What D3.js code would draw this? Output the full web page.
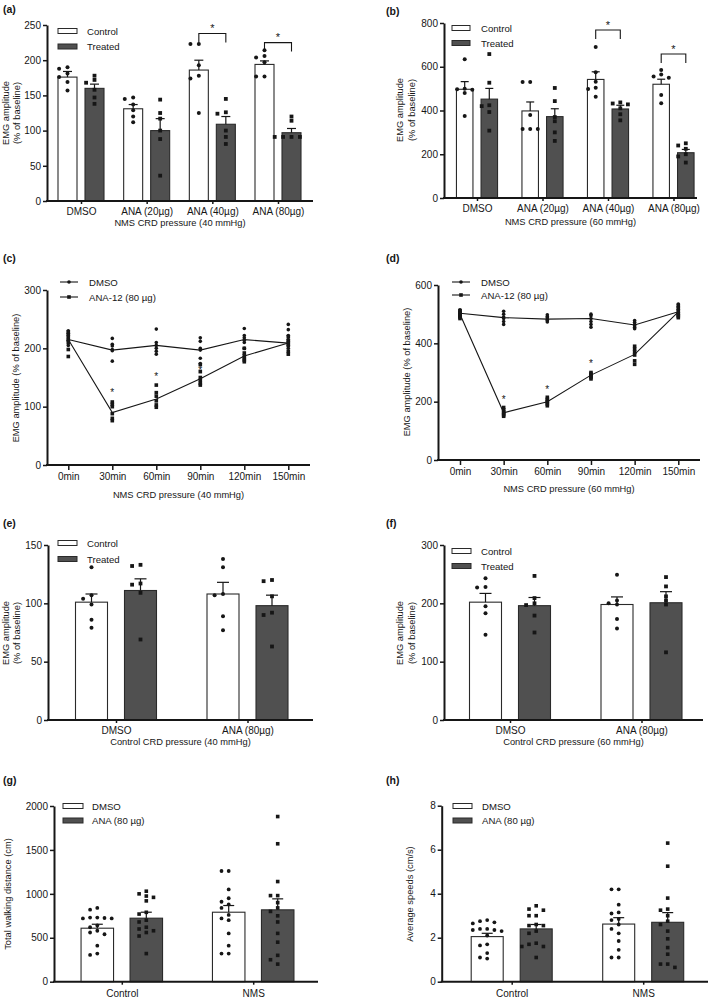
<!DOCTYPE html>
<html><head><meta charset="utf-8">
<script src="https://cdn.jsdelivr.net/npm/d3@7"></script>
<style>
body{margin:0;background:#fff}
svg{display:block}
text{font-family:"Liberation Sans",Arial,Helvetica,sans-serif;fill:#161616}
</style>
</head><body>
<svg id="fig" width="709" height="998"></svg>
<script>
// ---------------- DATA ----------------
// Panel (a)  NMS CRD 40 mmHg
const aGroups = ["DMSO", "ANA (20µg)", "ANA (40µg)", "ANA (80µg)"];
const aSeries = ["Control", "Treated"];
const aCtrlMean = [176, 131, 186, 194];
const aCtrlSem = [8, 6, 14, 5];
const aTrtMean = [160, 100, 109, 97];
const aTrtSem = [6, 17, 11, 6];
const aCtrlPts = [[190,188,181,176,169,157],[147,145,137,129,120,112],[223,223,193,178,174,125],[214,206,204,197,177,177]];
const aTrtPts = [[178,172,168,158,147,138],[144,125,117,100,88,36],[145,126,124,100,91,81],[120,114,91,91,91,91]];
const aSigGroups = ["ANA (40µg)", "ANA (80µg)"];
const aSigLevel = [238, 225];

// Panel (b)  NMS CRD 60 mmHg
const bGroups = ["DMSO", "ANA (20µg)", "ANA (40µg)", "ANA (80µg)"];
const bCtrlMean = [497, 398, 542, 520];
const bCtrlSem = [35, 41, 35, 23];
const bTrtMean = [452, 372, 407, 207];
const bTrtSem = [49, 36, 17, 15];
const bCtrlPts = [[634,500,497,495,480,375],[530,530,380,315,315,315],[690,575,532,504,498,463],[585,565,555,550,471,433]];
const bTrtPts = [[658,527,424,420,393,308],[503,443,370,351,300,261],[437,432,428,410,383,355],[250,240,225,200,190,162]];
const bSigGroups = ["ANA (40µg)", "ANA (80µg)"];
const bSigLevel = [768, 658];

// Panel (c)  time course 40 mmHg
const times = ["0min", "30min", "60min", "90min", "120min", "150min"];
const lineSeries = ["DMSO", "ANA-12 (80 µg)"];
const cDmsoMean = [215, 197, 205, 197, 215, 209];
const cAnaMean = [215, 90, 113, 148, 187, 209];
const cDmsoPts = [[230,226,222,218,214,205],[217,207,204,198,196,178],[233,210,205,200,195,190],[218,212,200,197,183,174],[234,222,218,214,210,200],[241,232,222,215,205,200]];
const cAnaPts = [[228,222,215,210,198,186],[108,104,100,88,80,76],[137,124,118,110,103,99],[172,160,150,145,140,137],[200,192,187,183,180,177],[220,213,210,205,195,190]];
const cStarTimes = ["30min", "60min", "90min"];
const cStarVal = [126, 152, 163];

// Panel (d)  time course 60 mmHg
const dDmsoMean = [503, 488, 483, 485, 463, 508];
const dAnaMean = [500, 162, 200, 291, 362, 508];
const dDmsoPts = [[515,510,505,500,495,490],[510,500,490,485,475,465],[498,492,488,482,478,473],[500,495,485,475,465,455],[478,472,465,460,455,450],[535,525,515,505,498,490]];
const dAnaPts = [[512,505,500,495,490,485],[180,172,165,160,155,150],[215,208,202,198,192,186],[300,295,290,287,283,278],[390,380,370,360,340,328],[530,520,510,500,495,488]];
const dStarTimes = ["30min", "60min", "90min"];
const dStarVal = [208, 243, 331];

// Panel (e)  control CRD 40 mmHg
const efGroups = ["DMSO", "ANA (80µg)"];
const eCtrlMean = [101, 108];
const eCtrlSem = [7, 10];
const eTrtMean = [111, 98];
const eTrtSem = [10, 9];
const eCtrlPts = [[131,107,104,99,86,79],[138,131,107,108,89,77]];
const eTrtPts = [[132,133,117,116,109,69],[119,120,106,92,90,63]];

// Panel (f)  control CRD 60 mmHg
const fCtrlMean = [202, 198];
const fCtrlSem = [15, 13];
const fTrtMean = [196, 201];
const fTrtSem = [14, 19];
const fCtrlPts = [[243,228,227,195,183,146],[249,205,200,198,173,157]];
const fTrtPts = [[247,209,200,197,179,150],[245,229,212,205,198,116]];

// Panel (g)  total walking distance
const ghGroups = ["Control", "NMS"];
const ghSeries = ["DMSO", "ANA (80 µg)"];
const gDmsoMean = [609, 791];
const gDmsoSem = [45, 76];
const gAnaMean = [723, 818];
const gAnaSem = [68, 125];
const gDmsoPts = [[840,820,730,730,725,720,720,640,620,580,560,540,410,320,305],[1260,1260,1050,950,910,880,840,760,720,700,550,410,320,320]];
const gAnaPts = [[1030,1000,975,960,920,790,770,700,680,620,600,580,560,520,320],[1880,1570,1140,980,980,900,840,800,750,680,550,450,300,250,200]];

// Panel (h)  average speeds
const hDmsoMean = [2.05, 2.62];
const hDmsoSem = [0.15, 0.29];
const hAnaMean = [2.4, 2.7];
const hAnaSem = [0.2, 0.44];
const hDmsoPts = [[2.8,2.75,2.7,2.65,2.4,2.4,2.35,2.35,2.3,2.1,1.7,1.65,1.3,1.05,1.1],[4.2,4.2,3.5,3.15,3.1,2.85,2.8,2.6,2.4,2.2,1.85,1.45,1.1,1.1]];
const hAnaPts = [[3.45,3.3,3.25,3.0,3.0,2.6,2.55,2.55,2.3,2.2,1.75,1.7,1.6,1.6,1.1],[6.3,5.25,3.8,3.3,3.25,3.0,2.75,2.6,2.3,1.95,1.55,1.25,0.8,0.8,0.65]];

// ---------------- DRAWING ----------------
const svg = d3.select("#fig");
const INK = "#161616";
const DARK = "#505050";
const TICKFS = 9, LABFS = 9.6, TITLEFS = 9.3, LEGFS = 9.6;

function panelLabel(txt, x, y) {
  svg.append("text").attr("x", x).attr("y", y).attr("font-size", 10.5)
    .attr("font-weight", "bold").text(txt);
}

function yTitle(lines, x, yc, gap) {
  lines.forEach((t, i) => {
    svg.append("text")
      .attr("transform", `translate(${x + i * gap},${yc}) rotate(-90)`)
      .attr("text-anchor", "middle").attr("dominant-baseline", "central")
      .attr("font-size", TITLEFS).text(t);
  });
}

function styleAxis(sel) {
  sel.selectAll("path.domain").attr("stroke", INK).attr("stroke-width", 2);
  sel.selectAll(".tick line").attr("stroke", INK).attr("stroke-width", 1.5);
  sel.selectAll(".tick text").attr("fill", INK).attr("font-family", '"Liberation Sans",Arial,sans-serif');
}

// deterministic horizontal dodge of points that sit at nearly the same height
function dodge(vals, yScale, cx, half, minDy) {
  const items = vals.map(v => ({ py: yScale(v) })).sort((a, b) => a.py - b.py);
  const placed = [];
  const offs = [0, -1, 1, -2, 2, -3, 3, -4, 4].map(k => k * half);
  items.forEach(p => {
    for (const o of offs) {
      if (!placed.some(q => Math.abs(q.py - p.py) < minDy && Math.abs(q.dx - o) < 2 * half * 0.95)) { p.dx = o; break; }
    }
    if (p.dx === undefined) p.dx = 0;
    placed.push(p);
  });
  return placed.map(p => ({ x: cx + p.dx, y: p.py }));
}

function drawMarker(g, shape, x, y, s) {
  if (shape === "circle") {
    g.append("circle").attr("cx", x).attr("cy", y).attr("r", s / 2).attr("fill", INK);
  } else {
    g.append("rect").attr("x", x - s / 2).attr("y", y - s / 2).attr("width", s).attr("height", s).attr("fill", INK);
  }
}

function barPanel(cfg) {
  const g = svg.append("g");
  const y = d3.scaleLinear().domain([0, cfg.max]).range([cfg.yB, cfg.yT]);
  const xg = d3.scalePoint().domain(cfg.groups).range([cfg.c0, cfg.cN]);
  const xs = d3.scaleBand().domain(cfg.series)
    .range([-(cfg.off + cfg.bw / 2), cfg.off + cfg.bw / 2])
    .paddingInner(1 - cfg.bw / (2 * cfg.off)).paddingOuter(0);

  cfg.series.forEach((s, si) => {
    cfg.groups.forEach((grp, gi) => {
      const m = cfg.means[si][gi], e = cfg.sems[si][gi];
      const bx = xg(grp) + xs(s), bw = xs.bandwidth(), cx = bx + bw / 2;
      g.append("rect").attr("x", bx).attr("y", y(m)).attr("width", bw).attr("height", y(0) - y(m))
        .attr("fill", si === 0 ? "#fff" : DARK).attr("stroke", "#2a2a2a").attr("stroke-width", 1.1);
      g.append("line").attr("x1", cx).attr("x2", cx).attr("y1", y(m)).attr("y2", y(m + e))
        .attr("stroke", INK).attr("stroke-width", 1.2);
      g.append("line").attr("x1", cx - cfg.cap / 2).attr("x2", cx + cfg.cap / 2).attr("y1", y(m + e)).attr("y2", y(m + e))
        .attr("stroke", INK).attr("stroke-width", 1.2);
    });
  });
  cfg.series.forEach((s, si) => {
    cfg.groups.forEach((grp, gi) => {
      const cx = xg(grp) + xs(s) + xs.bandwidth() / 2;
      dodge(cfg.pts[si][gi], y, cx, cfg.half, cfg.minDy).forEach(p =>
        drawMarker(g, si === 0 ? "circle" : "square", p.x, p.y, si === 0 ? cfg.ms : cfg.ms * 0.95));
    });
  });

  const ya = d3.axisLeft(y).tickValues(d3.range(0, cfg.max + cfg.step / 2, cfg.step))
    .tickSize(4).tickSizeOuter(0).tickPadding(2).tickFormat(cfg.fmt || d3.format("d"));
  g.append("g").attr("transform", `translate(${cfg.x0},0)`).attr("font-size", TICKFS).call(ya).call(styleAxis);
  const xa = d3.axisBottom(xg).tickSize(3).tickPadding(cfg.xpad || 4).tickSizeOuter(0);
  g.append("g").attr("transform", `translate(0,${cfg.yB})`).attr("font-size", LABFS).call(xa)
    .call(styleAxis).call(a => a.select(".domain").remove());
  g.append("line").attr("x1", cfg.x0 - 1).attr("x2", cfg.x1).attr("y1", cfg.yB).attr("y2", cfg.yB)
    .attr("stroke", INK).attr("stroke-width", 2);

  if (cfg.xtitle) {
    g.append("text").attr("x", (cfg.x0 + cfg.x1) / 2).attr("y", cfg.xtitleY).attr("text-anchor", "middle")
      .attr("dominant-baseline", "central").attr("font-size", TITLEFS).text(cfg.xtitle);
  }

  cfg.series.forEach((s, si) => {
    const ly = cfg.legY[si];
    g.append("rect").attr("x", cfg.legX).attr("y", ly - 2.5).attr("width", cfg.legW).attr("height", 5)
      .attr("fill", si === 0 ? "#fff" : DARK).attr("stroke", "#2a2a2a").attr("stroke-width", 1);
    g.append("text").attr("x", cfg.legTX).attr("y", ly).attr("dominant-baseline", "central")
      .attr("font-size", LEGFS).text(s);
  });

  (cfg.sig || []).forEach((grp, i) => {
    const xl = xg(grp) + xs(cfg.series[0]) + xs.bandwidth() / 2;
    const xr = xg(grp) + xs(cfg.series[1]) + xs.bandwidth() / 2;
    const yy = y(cfg.sigLevel[i]);
    g.append("path").attr("d", `M${xl},${yy + 9}V${yy}H${xr}V${yy + 9}`)
      .attr("fill", "none").attr("stroke", INK).attr("stroke-width", 1.1);
    g.append("text").attr("x", (xl + xr) / 2).attr("y", yy - 1.5).attr("text-anchor", "middle")
      .attr("font-size", 11).text("*");
  });
  return { x: xg, y };
}

function linePanel(cfg) {
  const g = svg.append("g");
  const y = d3.scaleLinear().domain([0, cfg.max]).range([cfg.yB, cfg.yT]);
  const x = d3.scalePoint().domain(times).range([cfg.c0, cfg.cN]);
  const line = d3.line().x((d, i) => x(times[i])).y(d => y(d));
  [cfg.dmsoMean, cfg.anaMean].forEach(arr => {
    g.append("path").attr("d", line(arr)).attr("fill", "none").attr("stroke", INK).attr("stroke-width", 1.1);
  });
  times.forEach((t, ti) => {
    cfg.dmsoPts[ti].forEach(v => drawMarker(g, "circle", x(t), y(v), 3.6));
    cfg.anaPts[ti].forEach(v => drawMarker(g, "square", x(t), y(v), 3.6));
  });
  cfg.starTimes.forEach((t, i) => {
    g.append("text").attr("x", x(t)).attr("y", y(cfg.starVal[i]) + 4).attr("text-anchor", "middle")
      .attr("font-size", 10).text("*");
  });
  const ya = d3.axisLeft(y).tickValues(d3.range(0, cfg.max + cfg.step / 2, cfg.step))
    .tickSize(4).tickSizeOuter(0).tickPadding(2);
  g.append("g").attr("transform", `translate(${cfg.x0},0)`).attr("font-size", TICKFS).call(ya).call(styleAxis);
  const xa = d3.axisBottom(x).tickSize(5).tickPadding(3).tickSizeOuter(0);
  g.append("g").attr("transform", `translate(0,${cfg.yB})`).attr("font-size", LABFS).call(xa)
    .call(styleAxis).call(a => a.select(".domain").remove());
  g.append("line").attr("x1", cfg.x0 - 1).attr("x2", cfg.x1).attr("y1", cfg.yB).attr("y2", cfg.yB)
    .attr("stroke", INK).attr("stroke-width", 2);
  g.append("text").attr("x", (cfg.x0 + cfg.x1) / 2).attr("y", cfg.xtitleY).attr("text-anchor", "middle")
    .attr("dominant-baseline", "central").attr("font-size", TITLEFS).text(cfg.xtitle);
  lineSeries.forEach((s, si) => {
    const ly = cfg.legY[si];
    g.append("line").attr("x1", cfg.legX).attr("x2", cfg.legX + 18).attr("y1", ly).attr("y2", ly)
      .attr("stroke", INK).attr("stroke-width", 1.1);
    drawMarker(g, si === 0 ? "circle" : "square", cfg.legX + 9, ly, 3.6);
    g.append("text").attr("x", cfg.legX + 29).attr("y", ly).attr("dominant-baseline", "central")
      .attr("font-size", LEGFS).text(s);
  });
}

// ---- (a)
panelLabel("(a)", 3, 13);
barPanel({ groups: aGroups, series: aSeries, means: [aCtrlMean, aTrtMean], sems: [aCtrlSem, aTrtSem],
  pts: [aCtrlPts, aTrtPts], max: 250, step: 50, x0: 47, x1: 313, yB: 201, yT: 25,
  c0: 81, cN: 278, off: 13.5, bw: 19, cap: 9, half: 4.2, minDy: 4, ms: 4,
  legX: 58, legW: 19, legTX: 87, legY: [31, 46.5], sig: aSigGroups, sigLevel: aSigLevel,
  xtitle: "NMS CRD pressure (40 mmHg)", xtitleY: 223 });
yTitle(["EMG amplitude", "(% of baseline)"], 6, 113, 11);

// ---- (b)
panelLabel("(b)", 386, 15);
barPanel({ groups: bGroups, series: aSeries, means: [bCtrlMean, bTrtMean], sems: [bCtrlSem, bTrtSem],
  pts: [bCtrlPts, bTrtPts], max: 800, step: 200, x0: 444, x1: 697, yB: 198, yT: 23,
  c0: 477, cN: 673.5, off: 12.3, bw: 16.5, cap: 8, half: 3.8, minDy: 4, ms: 4,
  legX: 452, legW: 18, legTX: 481, legY: [28, 43], sig: bSigGroups, sigLevel: bSigLevel,
  xtitle: "NMS CRD pressure (60 mmHg)", xtitleY: 222 });
yTitle(["EMG amplitude", "(% of baseline)"], 399.5, 110, 12);

// ---- (c)
panelLabel("(c)", 3, 262);
linePanel({ max: 300, step: 100, x0: 47, x1: 310, yB: 465, yT: 290, c0: 68.3, cN: 288.3,
  dmsoMean: cDmsoMean, anaMean: cAnaMean, dmsoPts: cDmsoPts, anaPts: cAnaPts,
  starTimes: cStarTimes, starVal: cStarVal, legX: 60, legY: [282, 297],
  xtitle: "NMS CRD pressure (40 mmHg)", xtitleY: 495 });
yTitle(["EMG amplitude (% of baseline)"], 16, 378, 0);

// ---- (d)
panelLabel("(d)", 386, 262);
linePanel({ max: 600, step: 200, x0: 438, x1: 700, yB: 460, yT: 285, c0: 460, cN: 678.3,
  dmsoMean: dDmsoMean, anaMean: dAnaMean, dmsoPts: dDmsoPts, anaPts: dAnaPts,
  starTimes: dStarTimes, starVal: dStarVal, legX: 452, legY: [282, 295],
  xtitle: "NMS  CRD pressure (60 mmHg)", xtitleY: 489 });
yTitle(["EMG amplitude (% of baseline)"], 407, 372, 0);

// ---- (e)
panelLabel("(e)", 3, 527);
barPanel({ groups: efGroups, series: aSeries, means: [eCtrlMean, eTrtMean], sems: [eCtrlSem, eTrtSem],
  pts: [eCtrlPts, eTrtPts], max: 150, step: 50, x0: 48, x1: 313, yB: 720, yT: 545,
  c0: 116, cN: 247.5, off: 24.5, bw: 32, cap: 12, half: 4.2, minDy: 4, ms: 4,
  legX: 58, legW: 19, legTX: 87, legY: [543, 559],
  xtitle: "Control CRD pressure (40 mmHg)", xtitleY: 742 });
yTitle(["EMG amplitude", "(% of baseline)"], 6, 633, 11);

// ---- (f)
panelLabel("(f)", 386, 527);
barPanel({ groups: efGroups, series: aSeries, means: [fCtrlMean, fTrtMean], sems: [fCtrlSem, fTrtSem],
  pts: [fCtrlPts, fTrtPts], max: 300, step: 100, x0: 444, x1: 703, yB: 720, yT: 545,
  c0: 510, cN: 641.5, off: 24.5, bw: 32, cap: 12, half: 4.2, minDy: 4, ms: 4,
  legX: 452, legW: 19, legTX: 481, legY: [551, 566],
  xtitle: "Control CRD pressure (60 mmHg)", xtitleY: 742 });
yTitle(["EMG amplitude", "(% of baseline)"], 399.5, 633, 12);

// ---- (g)
panelLabel("(g)", 3, 784);
barPanel({ groups: ghGroups, series: ghSeries, means: [gDmsoMean, gAnaMean], sems: [gDmsoSem, gAnaSem],
  pts: [gDmsoPts, gAnaPts], max: 2000, step: 500, x0: 54, x1: 318, yB: 981.7, yT: 806,
  c0: 121.8, cN: 253.2, off: 24.5, bw: 32.5, cap: 11, half: 3.6, minDy: 4.5, ms: 3.8,
  legX: 63, legW: 20, legTX: 92, legY: [806, 820.5], xpad: 5 });
yTitle(["Total  walking distance (cm)"], 8, 894, 0);

// ---- (h)
panelLabel("(h)", 386, 784);
barPanel({ groups: ghGroups, series: ghSeries, means: [hDmsoMean, hAnaMean], sems: [hDmsoSem, hAnaSem],
  pts: [hDmsoPts, hAnaPts], max: 8, step: 2, x0: 441.7, x1: 708, yB: 981.7, yT: 805.7,
  c0: 511.7, cN: 643.2, off: 24.5, bw: 32, cap: 11, half: 3.6, minDy: 4.5, ms: 3.8,
  legX: 453, legW: 19, legTX: 482, legY: [806, 820.5], xpad: 5 });
yTitle(["Average speeds (cm/s)"], 410, 894, 0);
</script>
</body></html>
